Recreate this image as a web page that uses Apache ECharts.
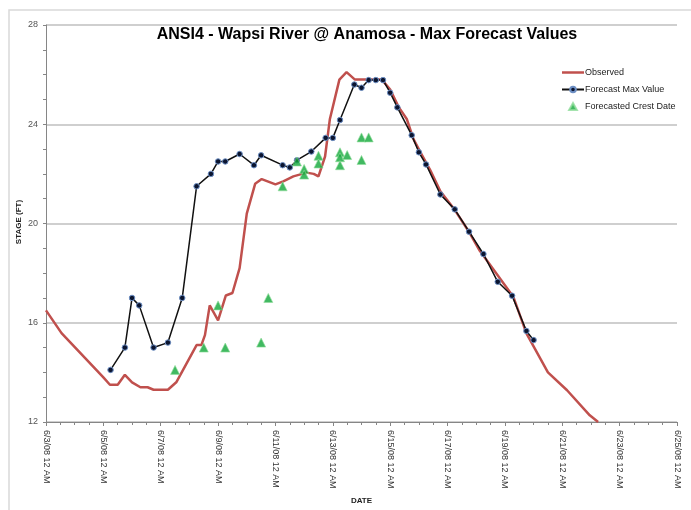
<!DOCTYPE html>
<html>
<head>
<meta charset="utf-8">
<script src="https://cdn.jsdelivr.net/npm/echarts@6/dist/echarts.min.js"></script>
<style>
  html, body { margin: 0; padding: 0; background: #fff; }
  #chart { width: 691px; height: 510px; }
</style>
</head>
<body>
<div id="chart"></div>
<script>
// observed stage (hourly record, read at its break points)
var obsTimes = ['06-03 00:00', '06-03 13:00', '06-05 00:00', '06-05 05:30', '06-05 12:00', '06-05 18:00',
    '06-06 00:00', '06-06 07:00', '06-06 13:00', '06-06 18:00', '06-07 06:00', '06-07 13:00',
    '06-08 06:00', '06-08 10:00', '06-08 13:00', '06-08 17:00', '06-09 00:00', '06-09 06:30',
    '06-09 12:00', '06-09 18:00', '06-10 00:00', '06-10 07:00', '06-10 12:30', '06-11 00:00',
    '06-11 06:30', '06-11 15:00', '06-12 02:00', '06-12 08:00', '06-12 12:00', '06-12 17:30',
    '06-12 21:30', '06-13 05:30', '06-13 11:30', '06-13 18:30', '06-14 04:30', '06-14 17:00',
    '06-15 00:00', '06-15 07:00', '06-15 14:00', '06-15 19:30', '06-16 01:00', '06-16 09:30',
    '06-16 18:00', '06-17 06:00', '06-17 17:30', '06-18 03:00', '06-19 07:00', '06-19 18:00',
    '06-20 12:00', '06-21 04:00', '06-21 23:00', '06-22 06:00'];
var obsValues = [16.5, 15.58, 13.8, 13.5, 13.5, 13.9,
    13.6, 13.4, 13.4, 13.3, 13.3, 13.6,
    15.1, 15.1, 15.5, 16.7, 16.1, 17.1,
    17.2, 18.2, 20.4, 21.6, 21.79, 21.58,
    21.7, 21.9, 22.05, 22.0, 21.9, 22.7,
    24.2, 25.8, 26.1, 25.8, 25.8, 25.8,
    25.4, 24.7, 24.2, 23.4, 22.9, 22.15,
    21.3, 20.55, 19.7, 18.9, 17.05, 15.57,
    14.0, 13.28, 12.27, 12.0];

// max forecast value per forecast issuance
var fcstTimes = ['06-05 06:00', '06-05 18:00', '06-06 00:00', '06-06 06:00', '06-06 18:00', '06-07 06:00',
    '06-07 18:00', '06-08 06:00', '06-08 18:00', '06-09 00:00', '06-09 06:00', '06-09 18:00',
    '06-10 06:00', '06-10 12:00', '06-11 06:00', '06-11 12:00', '06-11 18:00', '06-12 06:00',
    '06-12 18:00', '06-13 00:00', '06-13 06:00', '06-13 18:00', '06-14 00:00', '06-14 06:00',
    '06-14 12:00', '06-14 18:00', '06-15 00:00', '06-15 06:00', '06-15 18:00', '06-16 00:00',
    '06-16 06:00', '06-16 18:00', '06-17 06:00', '06-17 18:00', '06-18 06:00', '06-18 18:00',
    '06-19 06:00', '06-19 18:00', '06-20 00:00'];
var fcstValues = [14.1, 15.0, 17.0, 16.7, 15.0, 15.2,
    17.0, 21.5, 22.0, 22.5, 22.5, 22.8,
    22.35, 22.75, 22.35, 22.26, 22.55, 22.9,
    23.45, 23.45, 24.17, 25.6, 25.47, 25.78,
    25.78, 25.78, 25.27, 24.68, 23.56, 22.87,
    22.38, 21.17, 20.57, 19.67, 18.77, 17.65,
    17.09, 15.67, 15.3];

// forecasted crest (date, stage)
var crestTimes = ['06-07 12:00', '06-08 12:00', '06-09 00:00', '06-09 06:00', '06-10 12:00', '06-10 18:00',
    '06-11 06:00', '06-11 18:00', '06-12 00:00', '06-12 00:00', '06-12 12:00', '06-12 12:00',
    '06-13 06:00', '06-13 06:00', '06-13 06:00', '06-13 12:00', '06-14 00:00', '06-14 00:00',
    '06-14 06:00'];
var crestValues = [14.1, 15.0, 16.7, 15.0, 15.2, 17.0,
    21.5, 22.5, 22.2, 21.97, 22.73, 22.42,
    22.87, 22.67, 22.35, 22.76, 23.47, 22.56,
    23.47];

var startDay = 3; // 6/3/08 12 AM is day 0 of the axis

// 'MM-DD HH:mm' -> days since 6/3/08 12 AM
function toDays(s) {
    var day = parseInt(s.substr(3, 2), 10);
    var hh = parseInt(s.substr(6, 2), 10);
    var mm = parseInt(s.substr(9, 2), 10);
    return day - startDay + (hh + mm / 60) / 24;
}

function pairs(times, values) {
    return times.map(function (t, i) { return [toDays(t), values[i]]; });
}

var chart = echarts.init(document.getElementById('chart'));
var font = 'Liberation Sans';

var option = {
    animation: false,
    backgroundColor: '#fff',
    textStyle: { fontFamily: font },
    title: {
        text: 'ANSI4 - Wapsi River @ Anamosa - Max Forecast Values',
        left: 362,
        top: 22,
        textAlign: 'center',
        textStyle: { fontSize: 16, fontWeight: 'bold', color: '#000', fontFamily: font }
    },
    graphic: [
        {
            type: 'rect',
            shape: { x: 9, y: 10, width: 720, height: 540 },
            style: { fill: 'none', stroke: '#d9d9d9', lineWidth: 1.5 },
            silent: true
        },
        {
            // y axis title
            type: 'text',
            x: 19,
            y: 222,
            rotation: Math.PI / 2,
            style: {
                text: 'STAGE (FT)',
                font: 'bold 8px ' + font,
                fill: '#222',
                align: 'center',
                verticalAlign: 'middle'
            },
            silent: true
        }
    ],
    legend: {
        orient: 'vertical',
        left: 556,
        top: 63,
        itemGap: 8,
        itemWidth: 22,
        itemHeight: 7,
        symbolKeepAspect: true,
        textStyle: { fontSize: 9, color: '#222', padding: [0, 0, 0, -4] },
        data: [
            { name: 'Observed', icon: 'path://M0,0 L22,0 L22,2.5 L0,2.5 Z' },
            'Forecast Max Value',
            { name: 'Forecasted Crest Date', icon: 'path://M5,0 L10,9 L0,9 Z' }
        ]
    },
    grid: { left: 46, top: 25, right: 14, bottom: 88 },
    xAxis: {
        type: 'value',
        min: 0,
        max: 22,
        interval: 2,
        name: 'DATE',
        nameLocation: 'middle',
        nameGap: 72,
        nameTextStyle: { fontSize: 8, fontWeight: 'bold', color: '#222' },
        axisLine: { lineStyle: { color: '#868686', width: 1 } },
        axisTick: { show: true, length: 4, lineStyle: { color: '#868686' } },
        minorTick: { show: true, splitNumber: 4, length: 3, lineStyle: { color: '#868686' } },
        splitLine: { show: false },
        axisLabel: {
            rotate: -90,
            fontSize: 9,
            color: '#333',
            margin: 8,
            formatter: function (v) { return '6/' + (startDay + v) + '/08 12 AM'; }
        }
    },
    yAxis: {
        type: 'value',
        min: 12,
        max: 28,
        interval: 4,
        axisLine: { show: true, lineStyle: { color: '#868686', width: 1 } },
        axisTick: { show: true, length: 3, lineStyle: { color: '#868686' } },
        minorTick: { show: true, splitNumber: 4, length: 3, lineStyle: { color: '#868686' } },
        splitLine: { show: true, lineStyle: { color: '#bfbfbf', width: 1.5 } },
        axisLabel: { fontSize: 9, color: '#555', margin: 8 }
    },
    series: [
        {
            name: 'Observed',
            type: 'line',
            data: pairs(obsTimes, obsValues),
            symbol: 'none',
            lineStyle: { color: '#c0504d', width: 2.5 },
            itemStyle: { color: '#c0504d' },
            z: 2
        },
        {
            name: 'Forecast Max Value',
            type: 'line',
            data: pairs(fcstTimes, fcstValues),
            symbol: 'circle',
            symbolSize: 5.5,
            lineStyle: { color: '#111', width: 1.5 },
            itemStyle: { color: '#0b1530', borderColor: '#6d8fc4', borderWidth: 1 },
            z: 3
        },
        {
            name: 'Forecasted Crest Date',
            type: 'scatter',
            data: pairs(crestTimes, crestValues),
            symbol: 'triangle',
            symbolSize: 9,
            itemStyle: { color: '#12a83a', borderColor: '#8fdc9a', borderWidth: 0.8 },
            z: 4
        }
    ]
};

chart.setOption(option);
</script>
</body>
</html>
